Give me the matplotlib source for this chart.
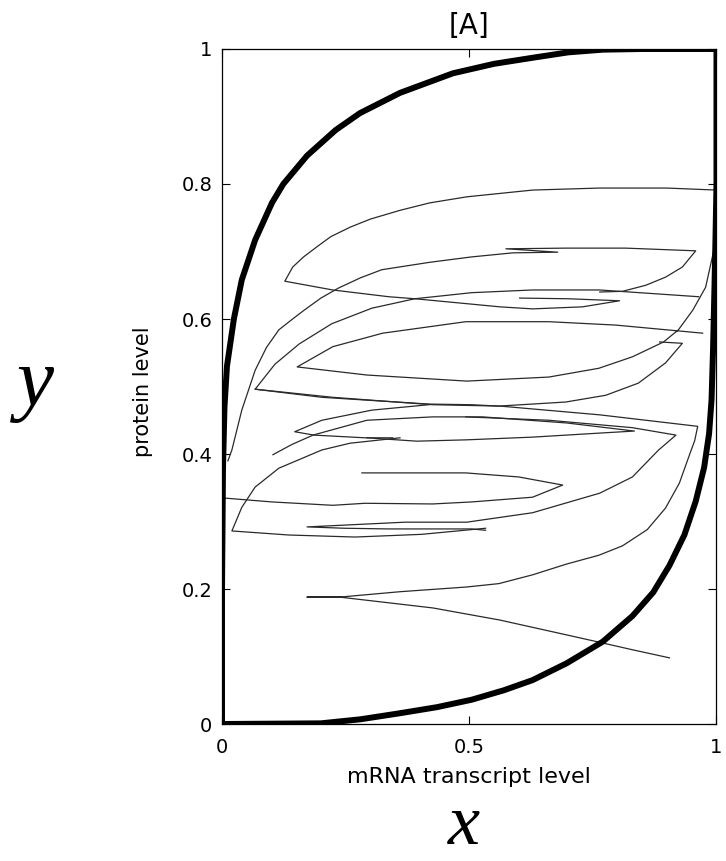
import matplotlib
matplotlib.use("Agg")
import matplotlib.pyplot as plt

# --- nullclines (thick) ---
upper_x = [0.0, 0.0, 0.002, 0.005, 0.010, 0.024, 0.040, 0.067, 0.101, 0.124, 0.172, 0.230,
           0.279, 0.360, 0.467, 0.550, 0.628, 0.700, 0.770, 0.850, 1.0]
upper_y = [0.0, 0.20, 0.38, 0.47, 0.53, 0.600, 0.658, 0.717, 0.772, 0.800, 0.842, 0.880,
           0.905, 0.935, 0.964, 0.978, 0.987, 0.995, 0.999, 1.0, 1.0]
lower_x = [0.0, 0.200, 0.280, 0.360, 0.435, 0.505, 0.570, 0.628, 0.697, 0.770, 0.830, 0.872,
           0.905, 0.935, 0.958, 0.975, 0.985, 0.990, 0.993, 0.996, 0.998, 1.0, 1.0]
lower_y = [0.0, 0.001, 0.007, 0.016, 0.025, 0.036, 0.050, 0.065, 0.090, 0.122, 0.160, 0.195,
           0.235, 0.280, 0.330, 0.380, 0.430, 0.480, 0.554, 0.650, 0.720, 0.800, 1.0]

# --- trajectory pieces (thin) ---
t1_x = [1.0, 0.899, 0.764, 0.628, 0.495, 0.420, 0.360, 0.300, 0.259, 0.220, 0.192, 0.165,
        0.143, 0.127, 0.224, 0.337, 0.390, 0.505, 0.562, 0.628, 0.729, 0.804, 0.700, 0.602]
t1_y = [0.791, 0.794, 0.794, 0.791, 0.781, 0.772, 0.761, 0.748, 0.736, 0.722, 0.707, 0.692,
        0.677, 0.656, 0.643, 0.633, 0.630, 0.622, 0.618, 0.615, 0.618, 0.627, 0.630, 0.631]

t2_x = [0.012, 0.020, 0.040, 0.067, 0.090, 0.115, 0.141, 0.166, 0.200, 0.236, 0.280, 0.323,
        0.420, 0.505, 0.588, 0.679, 0.574, 0.695, 0.816, 0.958, 0.931, 0.897, 0.857, 0.810,
        0.764]
t2_y = [0.390, 0.406, 0.465, 0.524, 0.558, 0.584, 0.599, 0.613, 0.631, 0.646, 0.661, 0.673,
        0.684, 0.692, 0.698, 0.699, 0.704, 0.705, 0.705, 0.701, 0.677, 0.662, 0.650, 0.641,
        0.640]

t3_x = [0.964, 0.764, 0.628, 0.505, 0.390, 0.303, 0.222, 0.156, 0.107, 0.067, 0.202, 0.418,
        0.505, 0.560, 0.695, 0.776, 0.842, 0.897, 0.931, 0.885]
t3_y = [0.633, 0.643, 0.643, 0.639, 0.630, 0.616, 0.593, 0.563, 0.533, 0.496, 0.484, 0.474,
        0.473, 0.471, 0.477, 0.487, 0.505, 0.535, 0.564, 0.566]

t4_x = [0.998, 0.978, 0.952, 0.923, 0.893, 0.830, 0.762, 0.661, 0.495, 0.293, 0.152, 0.224,
        0.325, 0.493, 0.661, 0.796, 0.972]
t4_y = [0.713, 0.647, 0.613, 0.584, 0.566, 0.544, 0.527, 0.514, 0.508, 0.517, 0.529, 0.559,
        0.579, 0.596, 0.596, 0.591, 0.579]

t5_x = [0.067, 0.224, 0.426, 0.562, 0.764, 0.962, 0.956, 0.945, 0.925, 0.897, 0.860, 0.810,
        0.762, 0.697, 0.628, 0.560, 0.495, 0.360, 0.238, 0.172, 0.238, 0.426, 0.562, 0.697,
        0.764, 0.830, 0.905]
t5_y = [0.496, 0.484, 0.473, 0.471, 0.458, 0.441, 0.420, 0.398, 0.357, 0.320, 0.288, 0.264,
        0.250, 0.237, 0.221, 0.208, 0.203, 0.196, 0.188, 0.188, 0.188, 0.172, 0.154, 0.132,
        0.121, 0.110, 0.098]

t6_x = [0.418, 0.303, 0.202, 0.147, 0.186, 0.289, 0.345]
t6_y = [0.473, 0.465, 0.450, 0.433, 0.428, 0.424, 0.424]

t7_x = [0.103, 0.141, 0.184, 0.293, 0.426, 0.527, 0.697, 0.834, 0.764, 0.628, 0.495, 0.394, 0.293]
t7_y = [0.399, 0.414, 0.428, 0.450, 0.455, 0.455, 0.446, 0.434, 0.431, 0.425, 0.421, 0.419, 0.424]

t8_x = [0.493, 0.661, 0.830, 0.918, 0.899, 0.883, 0.830, 0.764, 0.628, 0.495, 0.370, 0.172,
        0.248, 0.337, 0.505, 0.533]
t8_y = [0.455, 0.450, 0.439, 0.428, 0.416, 0.406, 0.366, 0.342, 0.313, 0.299, 0.299, 0.292,
        0.290, 0.289, 0.289, 0.287]

t9_x = [0.360, 0.259, 0.202, 0.115, 0.067, 0.040, 0.020, 0.135, 0.269, 0.404, 0.533]
t9_y = [0.424, 0.416, 0.406, 0.379, 0.351, 0.321, 0.286, 0.280, 0.277, 0.281, 0.290]

t10_x = [0.0, 0.101, 0.224, 0.289, 0.426, 0.505, 0.628, 0.689, 0.600, 0.493, 0.360, 0.283]
t10_y = [0.335, 0.329, 0.324, 0.327, 0.326, 0.329, 0.336, 0.354, 0.366, 0.372, 0.372, 0.372]

trajectories = [(t1_x, t1_y), (t2_x, t2_y), (t3_x, t3_y), (t4_x, t4_y), (t5_x, t5_y),
                (t6_x, t6_y), (t7_x, t7_y), (t8_x, t8_y), (t9_x, t9_y), (t10_x, t10_y)]

x_ticks = [0, 0.5, 1]
y_ticks = [0, 0.2, 0.4, 0.6, 0.8, 1]

fig = plt.figure(figsize=(7.26, 8.61), dpi=100)
ax = fig.add_axes([0.3058, 0.1591, 0.6811, 0.7840])

for tx, ty in trajectories:
    ax.plot(tx, ty, color="#2a2a2a", lw=0.9)

ax.plot(upper_x, upper_y, color="black", lw=4.3, solid_capstyle="butt")
ax.plot(lower_x, lower_y, color="black", lw=4.3, solid_capstyle="butt")

ax.set_xlim(0, 1)
ax.set_ylim(0, 1)
ax.set_xticks(x_ticks)
ax.set_xticklabels(["0", "0.5", "1"])
ax.set_yticks(y_ticks)
ax.set_yticklabels(["0", "0.2", "0.4", "0.6", "0.8", "1"])
ax.tick_params(direction="in", length=6, width=0.8, top=True, right=True, labelsize=14)
ax.tick_params(axis="x", pad=10)
ax.tick_params(axis="y", pad=7)
for s in ax.spines.values():
    s.set_linewidth(0.9)

ax.set_title("[A]", fontsize=20, pad=11)
ax.set_xlabel("mRNA transcript level", fontsize=16)
ax.xaxis.set_label_coords(0.5, -0.063)
ax.set_ylabel("protein level", fontsize=15)
ax.yaxis.set_label_coords(-0.14, 0.493)

fig.text(35 / 726, 1 - 405 / 861, "y", family="Liberation Serif", style="italic",
         fontsize=60, ha="center", va="baseline")
fig.text(464 / 726, 1 - 844 / 861, "x", family="Liberation Serif", style="italic",
         fontsize=52, ha="center", va="baseline")

fig.savefig("out.png", dpi=100)
